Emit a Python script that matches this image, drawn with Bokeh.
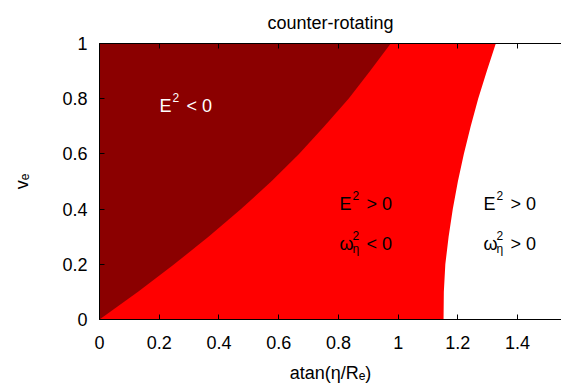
from bokeh.plotting import figure
from bokeh.models import Range1d, LinearAxis, FixedTicker, BoxAnnotation
from bokeh.core.properties import value
from bokeh.embed import file_html
from bokeh.resources import INLINE

# ---------------- data ----------------
title_text = "counter-rotating"
x_label = "atan(η/Rₑ)"
y_label = "vₑ"

v_e = [0.0, 0.1, 0.2, 0.3, 0.4, 0.5, 0.6, 0.7, 0.8, 0.9, 1.0]
# boundary where E^2 = 0 (dark region E^2<0 lies to the left)
atan_E2_zero = [0.0, 0.128, 0.250, 0.365, 0.474, 0.575, 0.668, 0.753, 0.834, 0.906, 0.975]
# boundary where omega_eta^2 = 0 (white region to the right)
atan_omega2_zero = [1.152, 1.153, 1.158, 1.169, 1.183, 1.200, 1.220, 1.243, 1.268, 1.297, 1.327]

x_ticks = [0, 0.2, 0.4, 0.6, 0.8, 1.0, 1.2, 1.4]
x_tick_labels = ["0", "0.2", "0.4", "0.6", "0.8", "1", "1.2", "1.4"]
y_ticks = [0, 0.2, 0.4, 0.6, 0.8, 1.0]
y_tick_labels = ["0", "0.2", "0.4", "0.6", "0.8", "1"]
x_start, x_end = 0.0, 1.547
y_start, y_end = 0.0, 1.0

label_base = ["E", "E", "ω", "E", "ω"]
label_sup = ["2", "2", "2", "2", "2"]
label_sub = ["", "", "η", "", "η"]
label_rest = ["< 0", "> 0", "< 0", "> 0", "> 0"]
label_x = [0.201, 0.804, 0.804, 1.286, 1.286]
label_y = [0.772, 0.417, 0.272, 0.417, 0.272]
label_color = ["white", "black", "black", "black", "black"]

# ---------------- figure ----------------
FONT = "Liberation Sans"
FS = "18px"
W, H = 561, 385

p = figure(width=W, height=H, output_backend="svg", toolbar_location=None,
           x_range=Range1d(x_start, x_end), y_range=Range1d(y_start, y_end),
           min_border_left=99, min_border_right=0, min_border_top=43, min_border_bottom=66,
           title=title_text)
p.background_fill_color = "white"
p.border_fill_color = "white"
p.outline_line_color = None
p.grid.visible = False

p.title.align = "center"
p.title.text_font = FONT
p.title.text_font_size = FS
p.title.text_font_style = "normal"
p.title.text_color = "black"
p.title.standoff = 21

for ax, ticks, labs in ((p.xaxis[0], x_ticks, x_tick_labels), (p.yaxis[0], y_ticks, y_tick_labels)):
    ax.ticker = FixedTicker(ticks=ticks)
    ax.major_label_overrides = dict(zip(ticks, labs))
    ax.major_tick_in = 5
    ax.major_tick_out = 0
    ax.minor_tick_line_color = None
    ax.major_label_text_font = FONT
    ax.major_label_text_font_size = FS
    ax.major_label_text_color = "black"
    ax.axis_label_text_font = FONT
    ax.axis_label_text_font_size = FS
    ax.axis_label_text_font_style = "normal"
    ax.axis_label_text_color = "black"
    ax.axis_line_color = "black"
    ax.major_tick_line_color = "black"

p.xaxis.axis_label = x_label
p.yaxis.axis_label = y_label
p.xaxis.major_label_standoff = 16
p.yaxis.major_label_standoff = 12
p.xaxis.axis_label_standoff = 11
p.yaxis.axis_label_standoff = 27

top = LinearAxis(ticker=FixedTicker(ticks=x_ticks),
                 major_label_overrides={t: "" for t in x_ticks},
                 major_tick_in=5, major_tick_out=0, minor_tick_line_color=None,
                 axis_line_color="black", major_tick_line_color="black")
p.add_layout(top, "above")

# ---------------- regions ----------------
red_xs = atan_omega2_zero + [x_start, x_start]
red_ys = v_e + [y_end, y_start]
r1 = p.patch(red_xs, red_ys, fill_color="#ff0000", line_color=None)
r1.level = "guide"

dark_xs = atan_E2_zero + [x_start]
dark_ys = v_e + [y_end]
r2 = p.patch(dark_xs, dark_ys, fill_color="#8b0000", line_color=None)
r2.level = "guide"

# frame border drawn above the filled regions
border = BoxAnnotation(fill_color=None, line_color="black", line_width=1, level="annotation")
p.add_layout(border)

# ---------------- labels ----------------
def add_text(xs, ys, texts, colors, size, xoff, yoff):
    r = p.text(x=xs, y=ys, text=texts, text_color=colors,
               text_font=value(FONT), text_font_size=value(size),
               text_align="left", text_baseline="alphabetic",
               x_offset=xoff, y_offset=yoff)
    r.level = "overlay"
    return r

add_text(label_x, label_y, label_base, label_color, "18px", 0, 0)
add_text(label_x, label_y, label_sup, label_color, "12px", 13, -9)
add_text(label_x, label_y, label_sub, label_color, "12px", 13, 5)
add_text(label_x, label_y, label_rest, label_color, "18px", 27, 0)

open("out.html", "w").write(file_html(p, INLINE))
